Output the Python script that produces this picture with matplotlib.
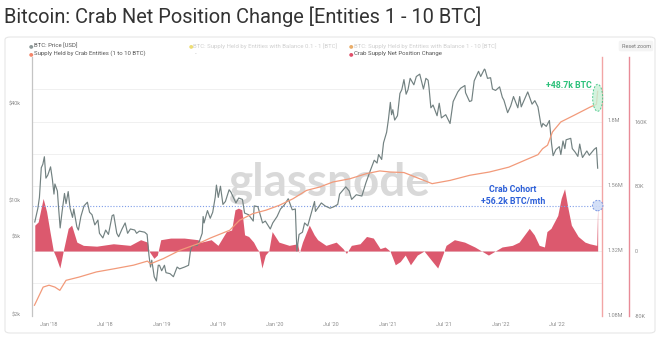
import numpy as np
import pandas as pd
import matplotlib
matplotlib.use("Agg")
import matplotlib.pyplot as plt
import matplotlib.dates as mdates
from matplotlib.patches import FancyBboxPatch, Ellipse
from matplotlib.ticker import FixedLocator, MultipleLocator, NullLocator
from matplotlib.transforms import ScaledTranslation

plt.rcParams['font.family'] = ['Roboto', 'DejaVu Sans']

# ---- data ----
price_dates = [
    "2017-11-16", "2017-11-26", "2017-12-01", "2017-12-07", "2017-12-12", "2017-12-17", "2017-12-22", "2017-12-28",
    "2018-01-06", "2018-01-12", "2018-01-17", "2018-01-20", "2018-01-28", "2018-02-01", "2018-02-06", "2018-02-12",
    "2018-02-20", "2018-02-25", "2018-03-04", "2018-03-10", "2018-03-18", "2018-03-22", "2018-04-01", "2018-04-06",
    "2018-04-14", "2018-04-24", "2018-05-05", "2018-05-12", "2018-05-20", "2018-05-29", "2018-06-08", "2018-06-13",
    "2018-06-24", "2018-07-03", "2018-07-12", "2018-07-24", "2018-07-29", "2018-08-08", "2018-08-14", "2018-08-25",
    "2018-09-04", "2018-09-12", "2018-09-21", "2018-10-05", "2018-10-11", "2018-10-20", "2018-11-06", "2018-11-14",
    "2018-11-20", "2018-11-25", "2018-11-29", "2018-12-07", "2018-12-14", "2018-12-20", "2018-12-24", "2018-12-31",
    "2019-01-09", "2019-01-14", "2019-01-27", "2019-02-07", "2019-02-19", "2019-02-27", "2019-03-15", "2019-03-28",
    "2019-04-03", "2019-04-10", "2019-04-25", "2019-05-03", "2019-05-11", "2019-05-14", "2019-05-17", "2019-05-28",
    "2019-06-06", "2019-06-14", "2019-06-22", "2019-06-26", "2019-07-02", "2019-07-09", "2019-07-17", "2019-07-25",
    "2019-08-06", "2019-08-12", "2019-08-28", "2019-09-06", "2019-09-18", "2019-09-25", "2019-10-08", "2019-10-23",
    "2019-10-26", "2019-11-07", "2019-11-22", "2019-12-01", "2019-12-17", "2019-12-25", "2020-01-08", "2020-01-19",
    "2020-01-31", "2020-02-13", "2020-02-26", "2020-03-07", "2020-03-12", "2020-03-19", "2020-03-30", "2020-04-06",
    "2020-04-16", "2020-04-30", "2020-05-08", "2020-05-11", "2020-05-30", "2020-06-11", "2020-06-27", "2020-07-10",
    "2020-07-22", "2020-07-28", "2020-08-17", "2020-08-28", "2020-09-05", "2020-09-20", "2020-10-08", "2020-10-21",
    "2020-11-05", "2020-11-17", "2020-11-26", "2020-12-01", "2020-12-11", "2020-12-17", "2020-12-27", "2021-01-02",
    "2021-01-08", "2021-01-12", "2021-01-16", "2021-01-22", "2021-01-31", "2021-02-08", "2021-02-14", "2021-02-21",
    "2021-02-28", "2021-03-06", "2021-03-13", "2021-03-25", "2021-04-02", "2021-04-13", "2021-04-25", "2021-05-03",
    "2021-05-10", "2021-05-13", "2021-05-19", "2021-05-26", "2021-06-08", "2021-06-15", "2021-06-22", "2021-07-06",
    "2021-07-20", "2021-07-30", "2021-08-14", "2021-08-23", "2021-09-06", "2021-09-08", "2021-09-21", "2021-09-28",
    "2021-10-06", "2021-10-20", "2021-10-27", "2021-11-08", "2021-11-10", "2021-11-18", "2021-11-28", "2021-12-04",
    "2021-12-14", "2021-12-27", "2022-01-05", "2022-01-10", "2022-01-22", "2022-02-01", "2022-02-10", "2022-02-24",
    "2022-03-02", "2022-03-07", "2022-03-28", "2022-04-11", "2022-04-20", "2022-04-30", "2022-05-09", "2022-05-12",
    "2022-05-16", "2022-05-27", "2022-06-06", "2022-06-13", "2022-06-18", "2022-06-27", "2022-07-08", "2022-07-13",
    "2022-07-20", "2022-07-26", "2022-07-30", "2022-08-14", "2022-08-19", "2022-08-28", "2022-09-06", "2022-09-12",
    "2022-09-18", "2022-09-21", "2022-10-05", "2022-10-13", "2022-10-29", "2022-11-05", "2022-11-09",
]
price_usd = [
    7400, 9000, 10500, 16000, 16800, 18700, 13800, 14400,
    16200, 13500, 11000, 12700, 11500, 9000, 6800, 8500,
    11100, 9600, 11400, 9000, 7900, 8900, 6900, 6600,
    8000, 9300, 9800, 8500, 8200, 7100, 7600, 6300,
    5900, 6600, 6200, 8100, 8200, 6300, 6000, 6700,
    7300, 6300, 6700, 6600, 6300, 6500, 6400, 6200,
    4600, 3900, 4300, 3400, 3200, 4000, 4000, 3700,
    4000, 3600, 3550, 3400, 3900, 3800, 3900, 4000,
    4900, 5300, 5300, 5700, 6300, 8000, 7300, 8700,
    7800, 8500, 10500, 12500, 10500, 12300, 9500, 9900,
    11700, 11300, 9700, 10400, 10200, 8400, 8200, 7500,
    9300, 9200, 7300, 7500, 6700, 7300, 8000, 8900,
    9400, 10300, 8800, 8900, 4900, 6200, 6400, 7300,
    7000, 8700, 9900, 8600, 9700, 9300, 9000, 9200,
    9500, 11000, 12200, 11500, 10200, 10900, 10700, 12900,
    15500, 17800, 17100, 19300, 18000, 22800, 26500, 32000,
    40500, 34000, 36500, 31500, 33500, 46000, 48500, 56000,
    45500, 48500, 57000, 52000, 58500, 60500, 49000, 57000,
    55500, 50000, 37500, 39000, 33500, 40000, 32500, 34000,
    30000, 41000, 47000, 49500, 51500, 46500, 41000, 41500,
    55000, 63000, 58500, 65000, 64500, 57000, 57500, 49000,
    48000, 50500, 43500, 41800, 35000, 38500, 44000, 37500,
    44000, 38000, 47000, 39500, 41500, 38000, 30000, 28500,
    30000, 28800, 31300, 22500, 19000, 20700, 21600, 19300,
    23400, 21000, 23800, 24300, 21000, 20000, 18800, 22400,
    19500, 18500, 20300, 19100, 20800, 21300, 15900,
]

supply_dates = [
    "2017-11-15", "2017-12-13", "2018-01-01", "2018-01-20", "2018-02-05", "2018-02-25", "2018-04-08", "2018-06-03",
    "2018-08-01", "2018-10-01", "2018-11-15", "2018-11-25", "2019-01-05", "2019-02-28", "2019-04-27", "2019-06-08",
    "2019-08-08", "2019-09-09", "2019-10-21", "2019-12-03", "2020-01-15", "2020-02-28", "2020-04-12", "2020-05-26",
    "2020-07-06", "2020-08-30", "2020-10-23", "2020-12-05", "2021-01-07", "2021-02-21", "2021-04-13", "2021-05-23",
    "2021-07-20", "2021-09-22", "2021-11-24", "2022-01-26", "2022-03-30", "2022-04-30", "2022-05-15", "2022-05-31",
    "2022-06-16", "2022-07-13", "2022-08-24", "2022-10-16", "2022-11-05", "2022-11-09",
]
supply_m = [
    1.116, 1.183, 1.190, 1.183, 1.171, 1.208, 1.220, 1.239,
    1.251, 1.264, 1.279, 1.269, 1.288, 1.319, 1.343, 1.365,
    1.393, 1.430, 1.454, 1.467, 1.485, 1.509, 1.540, 1.553,
    1.571, 1.583, 1.602, 1.612, 1.608, 1.606, 1.583, 1.565,
    1.577, 1.596, 1.608, 1.626, 1.657, 1.672, 1.694, 1.707,
    1.756, 1.793, 1.817, 1.848, 1.858, 1.906,
]

net_dates = [
    "2017-11-16", "2017-11-27", "2017-12-13", "2017-12-24", "2018-01-04", "2018-01-15", "2018-01-23", "2018-02-05",
    "2018-02-16", "2018-03-04", "2018-03-15", "2018-04-01", "2018-04-22", "2018-06-04", "2018-07-28", "2018-09-20",
    "2018-10-24", "2018-11-15", "2018-11-20", "2018-12-06", "2018-12-17", "2018-12-28", "2019-01-29", "2019-03-14",
    "2019-04-27", "2019-05-08", "2019-06-09", "2019-07-01", "2019-07-28", "2019-08-14", "2019-08-25", "2019-09-05",
    "2019-09-16", "2019-09-25", "2019-10-08", "2019-10-24", "2019-11-04", "2019-11-10", "2019-11-20", "2019-12-01",
    "2019-12-12", "2019-12-23", "2020-01-14", "2020-02-16", "2020-03-14", "2020-03-20", "2020-03-30", "2020-04-21",
    "2020-05-07", "2020-05-18", "2020-06-14", "2020-07-17", "2020-08-08", "2020-08-19", "2020-09-04", "2020-10-02",
    "2020-10-23", "2020-11-14", "2020-12-06", "2020-12-22", "2021-01-07", "2021-01-24", "2021-02-09", "2021-02-25",
    "2021-03-14", "2021-04-05", "2021-04-27", "2021-05-24", "2021-06-10", "2021-06-26", "2021-07-07", "2021-08-03",
    "2021-09-05", "2021-10-08", "2021-10-30", "2021-11-21", "2021-12-13", "2022-01-04", "2022-02-06", "2022-02-28",
    "2022-04-02", "2022-04-18", "2022-05-04", "2022-05-21", "2022-05-29", "2022-06-11", "2022-06-22", "2022-07-03",
    "2022-07-14", "2022-07-25", "2022-08-05", "2022-08-16", "2022-09-07", "2022-09-29", "2022-10-14", "2022-11-06",
    "2022-11-09",
]
net_k = [
    32, 36, 65, 49, 24, 0, -7, -21,
    0, 28, 32, 11, 7, 6, 9, 7,
    14, 11, 0, -9, -5, 14, 16, 16,
    14, 11, 14, 7, 24, 26, 51, 53,
    51, 20, 18, 11, 3, 0, -21, -5,
    0, 24, 11, 7, 9, -2, 11, 32,
    20, 14, 7, 11, 3, -3, 7, 9,
    18, 16, 3, 5, 0, -17, -13, -5,
    -17, -5, 0, -13, -21, -5, 7, 14,
    11, 5, 0, -5, 0, 5, 7, 11,
    28, 20, 7, 5, 24, 28, 36, 44,
    65, 77, 53, 32, 18, 11, 9, 7,
    56.2,
]

tick_dates = ["2018-01-01", "2018-07-01", "2019-01-01", "2019-07-01", "2020-01-01",
              "2020-07-01", "2021-01-01", "2021-07-01", "2022-01-01", "2022-07-01"]
price_ticks = [2000, 6000, 10000, 40000]
price_tick_labels = ["$2k", "$6k", "$10k", "$40k"]
supply_ticks = [1.08, 1.32, 1.56, 1.8]
supply_tick_labels = ["1.08M", "1.32M", "1.56M", "1.8M"]
net_ticks = [-80, 0, 80, 160]
net_tick_labels = ["-80K", "0", "80K", "160K"]

# ---- layout helpers (pixel -> figure fraction) ----
W, H = 660, 348
def fx(x): return x / W
def fy(y): return 1 - y / H

L, R, T, B = 32, 602, 57, 316

PRICE_C = "#728181"
SUPPLY_C = "#f29a7a"
NET_C = "#dc596e"
BLUE = "#2c5fd8"
GREEN = "#2cc07a"
TICK_C = "#8c8c8c"

fig = plt.figure(figsize=(6.6, 3.48), dpi=100)
fig.patch.set_facecolor("white")

card = FancyBboxPatch((fx(5), fy(333)), fx(650), (333 - 37) / H,
                      boxstyle="round,pad=0,rounding_size=0.008",
                      transform=fig.transFigure, facecolor="white",
                      edgecolor="#e6e6e6", lw=0.8, zorder=0)
fig.patches.append(card)

fig.text(fx(4), fy(17), "Bitcoin: Crab Net Position Change [Entities 1 - 10 BTC]",
         fontsize=14.4, color="#333333", va="center", ha="left")

rect = [fx(L), fy(B), (R - L) / W, (B - T) / H]
ax_net = fig.add_axes(rect)
ax = fig.add_axes(rect, sharex=ax_net)
ax_sup = fig.add_axes(rect, sharex=ax_net)
ax_net.set_zorder(1)
ax.set_zorder(2)
ax_sup.set_zorder(3)
ax.patch.set_visible(False)
ax_sup.patch.set_visible(False)

pd_price = pd.to_datetime(price_dates)
pd_supply = pd.to_datetime(supply_dates)
pd_net = pd.to_datetime(net_dates)

# net position change (area)
ax_net.fill_between(pd_net, 0, net_k, color=NET_C, lw=0, zorder=2)
ax_net.axhline(net_k[-1], color="#7f9de8", ls=(0, (1, 1.6)), lw=0.8, zorder=3)
ax_net.set_ylim(-80.3, 239.8)
ax_net.yaxis.tick_right()
ax_net.set_yticks(net_ticks)
ax_net.set_yticklabels(net_tick_labels)
ax_net.yaxis.set_minor_locator(MultipleLocator(40))
ax_net.grid(which="both", axis="y", color="#eeeeee", lw=0.6, zorder=0)
ax_net.set_axisbelow(True)
for s in ["top", "left", "bottom"]:
    ax_net.spines[s].set_visible(False)
ax_net.spines["right"].set_position(("axes", (629 - L) / (R - L)))
ax_net.spines["right"].set_color("#e88b97")
ax_net.spines["right"].set_linewidth(1.0)
ax_net.tick_params(axis="y", which="both", length=0, labelsize=4, colors=TICK_C, pad=4)
ax_net.tick_params(axis="x", length=0, labelsize=4, colors=TICK_C, pad=4)
ax_net.xaxis.set_major_locator(FixedLocator(mdates.date2num(pd.to_datetime(tick_dates))))
ax_net.xaxis.set_major_formatter(mdates.DateFormatter("%b '%y"))
ax_net.set_xlim(pd.Timestamp("2017-11-07"), pd.Timestamp("2022-11-23"))

ax_net.text((330 - L) / (R - L), (B - 183) / (B - T), "glassnode", transform=ax_net.transAxes,
            fontsize=33, fontweight="bold", color="#d9d9d9", ha="center", va="center",
            zorder=1, family=["Lato", "DejaVu Sans"])

# price (log, left)
ax.plot(pd_price, price_usd, color=PRICE_C, lw=0.85)
ax.set_yscale("log")
ax.set_ylim(1945, 77200)
ax.yaxis.set_major_locator(FixedLocator(price_ticks))
ax.yaxis.set_minor_locator(NullLocator())
ax.set_yticklabels(price_tick_labels)
ax.tick_params(axis="y", length=0, labelsize=4, colors=TICK_C, pad=8)
ax.tick_params(axis="x", length=0, labelbottom=False)
for s in ["top", "right", "bottom"]:
    ax.spines[s].set_visible(False)
ax.spines["left"].set_color("#c4c4c4")
ax.spines["left"].set_linewidth(0.9)

# supply held by crabs (right)
ax_sup.plot(pd_supply, supply_m, color=SUPPLY_C, lw=0.9)
ax_sup.set_ylim(1.0763, 2.0327)
ax_sup.yaxis.tick_right()
ax_sup.set_yticks(supply_ticks)
ax_sup.set_yticklabels(supply_tick_labels)
ax_sup.tick_params(axis="y", length=0, labelsize=4, colors=TICK_C, pad=4)
ax_sup.tick_params(axis="x", length=0, labelbottom=False)
for s in ["top", "left", "bottom"]:
    ax_sup.spines[s].set_visible(False)
ax_sup.spines["right"].set_color("#f2a5a5")
ax_sup.spines["right"].set_linewidth(1.0)

# highlight markers at the last values
x_last = mdates.date2num(pd_supply[-1])
sup_mid = (supply_m[-1] + supply_m[-2]) / 2
ell = Ellipse((0, 0), 0.10, 0.27,
              transform=fig.dpi_scale_trans + ScaledTranslation(x_last, sup_mid, ax_sup.transData),
              facecolor="#c9f0d6", edgecolor=GREEN, ls=(0, (2, 1.5)), lw=0.7, alpha=0.8, zorder=10)
fig.add_artist(ell)
x_net_last = mdates.date2num(pd_net[-1])
circ = Ellipse((0, 0), 0.105, 0.105,
               transform=fig.dpi_scale_trans + ScaledTranslation(x_net_last, net_k[-1], ax_net.transData),
               facecolor="#cfdcf7", edgecolor="#6f8fe0", ls=(0, (2, 1.5)), lw=0.7, alpha=0.9, zorder=10)
fig.add_artist(circ)

fig.text(fx(569), fy(85), "+48.7k BTC", fontsize=6.3, fontweight="bold", color=GREEN,
         ha="center", va="center", zorder=11)
fig.text(fx(513), fy(189), "Crab Cohort", fontsize=6.3, fontweight="bold", color=BLUE,
         ha="center", va="center", zorder=11)
fig.text(fx(513), fy(201), "+56.2k BTC/mth", fontsize=6.3, fontweight="bold", color=BLUE,
         ha="center", va="center", zorder=11)

# legend
def legend_item(x, y, dot, label, txt_c, alpha=1.0):
    fig.text(fx(x), fy(y), "●", fontsize=3.8, color=dot, alpha=alpha, ha="center", va="center",
             family="DejaVu Sans")
    fig.text(fx(x + 2.5), fy(y), label, fontsize=4.3, color=txt_c, alpha=alpha, ha="left", va="center")

legend_item(31.5, 46, "#8d9999", "BTC: Price [USD]", "#555555")
legend_item(31.5, 53.5, "#f4866a", "Supply Held by Crab Entities (1 to 10 BTC)", "#555555")
legend_item(191, 46, "#e6cf3a", "BTC: Supply Held by Entities with Balance 0.1 - 1 [BTC]", "#bbbbbb", 0.7)
fig.text(fx(195.5), fy(53.5), "-", fontsize=4.3, color="#bbbbbb", ha="center", va="center")
legend_item(351, 46, "#e08a2a", "BTC: Supply Held by Entities with Balance 1 - 10 [BTC]", "#bbbbbb", 0.7)
legend_item(351, 53.5, "#e0506a", "Crab Supply Net Position Change", "#555555")

fig.text(fx(636), fy(46), "Reset zoom", fontsize=4, color="#777777", ha="center", va="center",
         bbox=dict(boxstyle="round,pad=0.5,rounding_size=0.3", facecolor="#f4f4f4", edgecolor="none"))

fig.savefig("out.png", dpi=100)
plt.close(fig)
